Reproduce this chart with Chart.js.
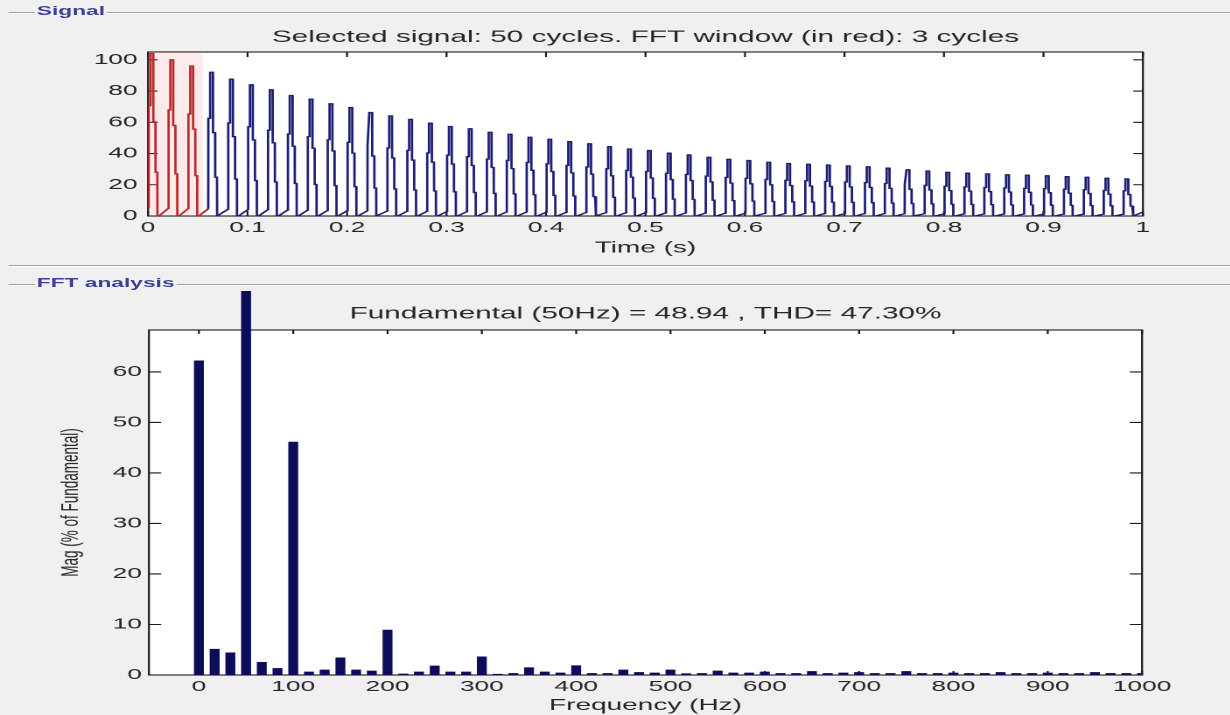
<!DOCTYPE html>
<html lang="en">
<head>
    <meta charset="UTF-8">
    <title>Signal / FFT analysis</title>
    <script src="https://cdn.jsdelivr.net/npm/chart.js"></script>
    <style>
        html, body { margin: 0; padding: 0; background: #f0f0f0; overflow: hidden; }
        /* the reference screenshot is stretched sideways, so the whole page is too */
        #page {
            position: relative;
            width: 703px;
            height: 715px;
            transform: scaleX(1.75);
            transform-origin: 0 0;
            font-family: "Liberation Sans", Arial, sans-serif;
        }
        .rule {
            position: absolute;
            left: 4.6px;
            right: 0;
            height: 0;
            border-top: 1px solid #a3a3a3;
            border-bottom: 1px solid #ffffff;
        }
        .legend {
            position: absolute;
            left: 20px;
            padding: 0 1px;
            background: #f0f0f0;
            color: #40409a;
            font-size: 13px;
            font-weight: bold;
            line-height: 14px;
        }
        canvas { position: absolute; left: 0; }
    </style>
</head>
<body>
<div id="page">
    <div class="rule" style="top:12px"></div>
    <div class="legend" style="top:4px">Signal</div>
    <canvas id="signalChart" width="703" height="245" style="top:20px"></canvas>
    <div class="rule" style="top:265px"></div>
    <div class="rule" style="top:284px"></div>
    <div class="legend" style="top:276px">FFT analysis</div>
    <canvas id="fftChart" width="703" height="425" style="top:290px"></canvas>
</div>

<script>
    // ---------- signal panel ----------
    const signalTitle = 'Selected signal: 50 cycles. FFT window (in red): 3 cycles';
    const cyclePeriod = 0.02;   // s
    const windowCycles = 3;
    const timeTicks = [0, 0.1, 0.2, 0.3, 0.4, 0.5, 0.6, 0.7, 0.8, 0.9, 1];
    const signalTicks = [0, 20, 40, 60, 80, 100];
    const signalMax = 105;
    const shadeEnd = 0.055;     // s, pink tint behind the red window

    // peak of every cycle
    const cyclePeaks = [104, 100, 96, 92, 87.6, 84, 80.8, 77.1, 74.8, 71.8,
        69.4, 66.2, 64.1, 61.8, 59.4, 57.3, 55.8, 53.6, 52.3, 50.4,
        49.1, 47.6, 46.2, 44.4, 42.9, 41.9, 40.2, 39.1, 37.6, 36.3,
        35.5, 34.4, 33.6, 33.1, 32.6, 32.1, 31.5, 30.6, 29.6, 28.8,
        28.0, 27.4, 26.9, 26.4, 26.1, 25.7, 25.2, 24.8, 24.1, 23.7];

    // stepped pulse shape inside one cycle (ms after cycle start, fraction of peak)
    const pulseTimes  = [0.5, 0.6, 2.3, 2.4, 5.2, 5.3, 7.4, 7.5, 9.3, 9.4, 11.0];
    const pulseLevels = [0.05, 0.68, 0.68, 1.0, 1.0, 0.58, 0.58, 0.27, 0.27, 0.0, 0.0];
    const signalTail = [1.0, 2.5];

    // ---------- FFT panel ----------
    const fftTitle = 'Fundamental (50Hz) = 48.94 , THD= 47.30%';
    const freqTicks = [0, 100, 200, 300, 400, 500, 600, 700, 800, 900, 1000];
    const magTicks = [0, 10, 20, 30, 40, 50, 60];
    const fftFreqs = [0, 16.67, 33.33, 50, 66.67, 83.33,
        100, 116.67, 133.33, 150, 166.67, 183.33,
        200, 216.67, 233.33, 250, 266.67, 283.33,
        300, 316.67, 333.33, 350, 366.67, 383.33,
        400, 416.67, 433.33, 450, 466.67, 483.33,
        500, 516.67, 533.33, 550, 566.67, 583.33,
        600, 616.67, 633.33, 650, 666.67, 683.33,
        700, 716.67, 733.33, 750, 766.67, 783.33,
        800, 816.67, 833.33, 850, 866.67, 883.33,
        900, 916.67, 933.33, 950, 966.67, 983.33,
        1000];
    const fftMags = [62.2, 5.1, 4.4, 100, 2.5, 1.3,
        46.1, 0.6, 1.0, 3.4, 1.0, 0.8,
        8.9, 0.2, 0.6, 1.8, 0.6, 0.6,
        3.6, 0.15, 0.3, 1.45, 0.6, 0.4,
        1.85, 0.3, 0.3, 1.0, 0.5, 0.4,
        1.0, 0.25, 0.3, 0.8, 0.4, 0.4,
        0.6, 0.3, 0.3, 0.7, 0.3, 0.4,
        0.5, 0.3, 0.3, 0.7, 0.3, 0.3,
        0.4, 0.3, 0.3, 0.5, 0.3, 0.3,
        0.4, 0.3, 0.3, 0.5, 0.3, 0.3,
        0.3];

    const font = "'Liberation Sans', Arial, sans-serif";
    const ink = '#262626';

    function cyclePoints(k) {
        const t0 = k * cyclePeriod;
        return pulseTimes.map((ms, i) => ({x: t0 + ms / 1000, y: cyclePeaks[k] * pulseLevels[i]}));
    }

    const redTrace = [];
    const blueTrace = [];
    cyclePeaks.forEach((p, k) => (k < windowCycles ? redTrace : blueTrace).push(...cyclePoints(k)));
    redTrace.push(cyclePoints(windowCycles)[0]);
    blueTrace.push({x: signalTail[0], y: signalTail[1]});
    const windowBand = [{x: 0, y: signalMax}, {x: shadeEnd, y: signalMax}];

    // white axes box with inward ticks on all four sides
    const axesFrame = {
        id: 'axesFrame',
        beforeDraw(chart) {
            const {ctx, chartArea: a} = chart;
            ctx.save();
            ctx.fillStyle = '#ffffff';
            ctx.fillRect(a.left, a.top, a.right - a.left, a.bottom - a.top);
            ctx.restore();
        },
        beforeDatasetsDraw(chart, args, opts) {
            const {ctx, chartArea: a, scales: {x, y}} = chart;
            ctx.save();
            ctx.strokeStyle = '#1a1a1a';
            ctx.lineWidth = 1.1;
            ctx.strokeRect(a.left, a.top, a.right - a.left, a.bottom - a.top);
            ctx.beginPath();
            x.ticks.forEach(t => {
                const px = x.getPixelForValue(t.value);
                ctx.moveTo(px, a.bottom); ctx.lineTo(px, a.bottom - opts.xTick);
                ctx.moveTo(px, a.top); ctx.lineTo(px, a.top + opts.xTick);
            });
            y.ticks.forEach(t => {
                const py = y.getPixelForValue(t.value);
                ctx.moveTo(a.left, py); ctx.lineTo(a.left + opts.yTick, py);
                ctx.moveTo(a.right, py); ctx.lineTo(a.right - opts.yTick, py);
            });
            ctx.stroke();
            ctx.restore();
        }
    };

    const tickFont = {family: font, size: 15};
    const noGrid = {display: false, drawTicks: false};

    new Chart(document.getElementById('signalChart'), {
        type: 'line',
        data: {
            datasets: [
                {data: windowBand, fill: 'origin', backgroundColor: 'rgba(240,130,130,0.16)', borderWidth: 0, pointRadius: 0},
                {data: redTrace, borderColor: '#b01a1e', borderWidth: 1.35, pointRadius: 0, fill: false},
                {data: blueTrace, borderColor: '#1d1d76', borderWidth: 1.35, pointRadius: 0, fill: false}
            ]
        },
        options: {
            responsive: false,
            animation: false,
            devicePixelRatio: 2,
            layout: {padding: {left: 0, right: 49.9, top: 0, bottom: 0}},
            plugins: {
                legend: {display: false},
                tooltip: {enabled: false},
                title: {display: true, fullSize: false, text: signalTitle, color: ink,
                    font: {family: font, size: 17, weight: 'normal'}, padding: {top: 7, bottom: 4.6}},
                axesFrame: {xTick: 5, yTick: 5.5}
            },
            scales: {
                x: {
                    type: 'linear', min: 0, max: 1,
                    grid: noGrid, border: {display: false},
                    afterBuildTicks: s => { s.ticks = timeTicks.map(v => ({value: v})); },
                    afterFit: s => { s.height = 49; },
                    ticks: {color: ink, font: tickFont, padding: 3, maxRotation: 0, autoSkip: false, callback: v => String(v)},
                    title: {display: true, text: 'Time (s)', color: ink, font: {family: font, size: 16}, padding: {top: 0, bottom: 7.4}}
                },
                y: {
                    min: 0, max: signalMax,
                    grid: noGrid, border: {display: false},
                    afterBuildTicks: s => { s.ticks = signalTicks.map(v => ({value: v})); },
                    afterFit: s => { s.width = 84.6; },
                    ticks: {color: ink, font: tickFont, padding: 6}
                }
            }
        },
        plugins: [axesFrame]
    });

    new Chart(document.getElementById('fftChart'), {
        type: 'bar',
        data: {
            datasets: [{
                data: fftFreqs.map((f, i) => ({x: f, y: fftMags[i]})),
                backgroundColor: '#0c0c5a',
                borderWidth: 0,
                barThickness: 5,
                clip: {left: 0, top: 39, right: 0, bottom: 0}
            }]
        },
        options: {
            responsive: false,
            animation: false,
            devicePixelRatio: 2,
            layout: {padding: {left: 0, right: 50.4, top: 0, bottom: 0}},
            plugins: {
                legend: {display: false},
                tooltip: {enabled: false},
                title: {display: true, fullSize: false, text: fftTitle, color: ink,
                    font: {family: font, size: 17, weight: 'normal'}, padding: {top: 13.8, bottom: 5.8}},
                axesFrame: {xTick: 4, yTick: 7}
            },
            scales: {
                x: {
                    type: 'linear', min: -53, max: 1000, offset: false,
                    grid: noGrid, border: {display: false},
                    afterBuildTicks: s => { s.ticks = freqTicks.map(v => ({value: v})); },
                    afterFit: s => { s.height = 40; },
                    ticks: {color: ink, font: tickFont, padding: 3, maxRotation: 0, autoSkip: false, callback: v => String(v)},
                    title: {display: true, text: 'Frequency (Hz)', color: ink, font: {family: font, size: 16}, padding: {top: 0, bottom: 0}}
                },
                y: {
                    min: 0, max: 68.3,
                    grid: noGrid, border: {display: false},
                    afterBuildTicks: s => { s.ticks = magTicks.map(v => ({value: v})); },
                    afterFit: s => { s.width = 85.1; },
                    ticks: {color: ink, font: tickFont, padding: 4},
                    title: {display: true, text: 'Mag (% of Fundamental)', color: '#2a2a2a', font: {family: font, size: 13.5}, padding: {top: 32.5, bottom: 0}}
                }
            }
        },
        plugins: [axesFrame]
    });
</script>
</body>
</html>
